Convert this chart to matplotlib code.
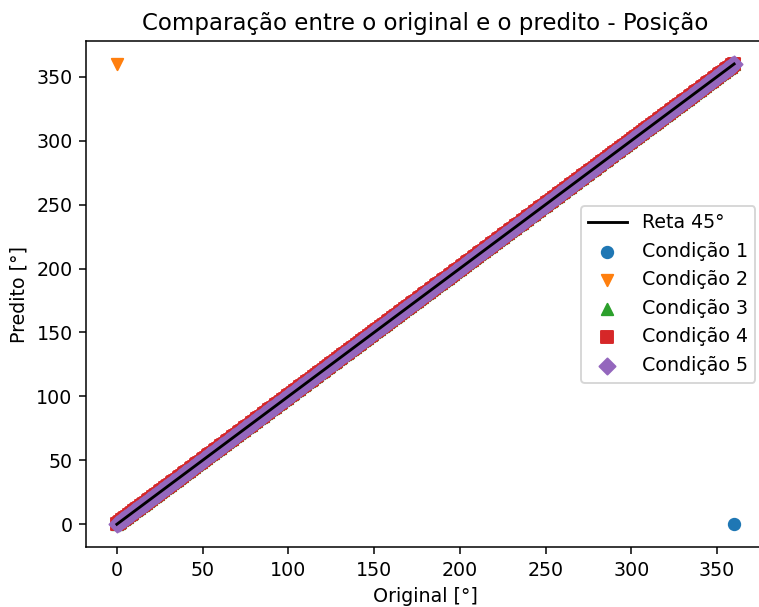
import matplotlib
matplotlib.use("Agg")
from matplotlib import pyplot as plt

# angulos originais (graus), 1 grau de passo
original = [
    0, 1, 2, 3, 4, 5, 6, 7, 8, 9, 10, 11, 12, 13, 14, 15, 16, 17, 18, 19,
    20, 21, 22, 23, 24, 25, 26, 27, 28, 29, 30, 31, 32, 33, 34, 35, 36, 37, 38, 39,
    40, 41, 42, 43, 44, 45, 46, 47, 48, 49, 50, 51, 52, 53, 54, 55, 56, 57, 58, 59,
    60, 61, 62, 63, 64, 65, 66, 67, 68, 69, 70, 71, 72, 73, 74, 75, 76, 77, 78, 79,
    80, 81, 82, 83, 84, 85, 86, 87, 88, 89, 90, 91, 92, 93, 94, 95, 96, 97, 98, 99,
    100, 101, 102, 103, 104, 105, 106, 107, 108, 109, 110, 111, 112, 113, 114, 115,
    116, 117, 118, 119, 120, 121, 122, 123, 124, 125, 126, 127, 128, 129, 130, 131,
    132, 133, 134, 135, 136, 137, 138, 139, 140, 141, 142, 143, 144, 145, 146, 147,
    148, 149, 150, 151, 152, 153, 154, 155, 156, 157, 158, 159, 160, 161, 162, 163,
    164, 165, 166, 167, 168, 169, 170, 171, 172, 173, 174, 175, 176, 177, 178, 179,
    180, 181, 182, 183, 184, 185, 186, 187, 188, 189, 190, 191, 192, 193, 194, 195,
    196, 197, 198, 199, 200, 201, 202, 203, 204, 205, 206, 207, 208, 209, 210, 211,
    212, 213, 214, 215, 216, 217, 218, 219, 220, 221, 222, 223, 224, 225, 226, 227,
    228, 229, 230, 231, 232, 233, 234, 235, 236, 237, 238, 239, 240, 241, 242, 243,
    244, 245, 246, 247, 248, 249, 250, 251, 252, 253, 254, 255, 256, 257, 258, 259,
    260, 261, 262, 263, 264, 265, 266, 267, 268, 269, 270, 271, 272, 273, 274, 275,
    276, 277, 278, 279, 280, 281, 282, 283, 284, 285, 286, 287, 288, 289, 290, 291,
    292, 293, 294, 295, 296, 297, 298, 299, 300, 301, 302, 303, 304, 305, 306, 307,
    308, 309, 310, 311, 312, 313, 314, 315, 316, 317, 318, 319, 320, 321, 322, 323,
    324, 325, 326, 327, 328, 329, 330, 331, 332, 333, 334, 335, 336, 337, 338, 339,
    340, 341, 342, 343, 344, 345, 346, 347, 348, 349, 350, 351, 352, 353, 354, 355,
    356, 357, 358, 359, 360,
]

# pontos em que o modelo errou a volta (0 <-> 360)
c1_outlier_x = [360]
c1_outlier_y = [0]
c2_outlier_x = [0]
c2_outlier_y = [360]

reta_x = [0, 360]
reta_y = [0, 360]

c1_x = original[:-1] + c1_outlier_x
c1_y = original[:-1] + c1_outlier_y
c2_x = c2_outlier_x + original[1:]
c2_y = c2_outlier_y + original[1:]
c3_x, c3_y = original, original
c4_x, c4_y = original, original
c5_x, c5_y = original, original

DPI = 137
fig = plt.figure(figsize=(759 / DPI, 607 / DPI), dpi=DPI)
ax = fig.add_axes([0.1133, 0.0984, 0.8946, 0.8341])

ax.plot(reta_x, reta_y, color="black", label="Reta 45°")
ax.scatter(c1_x, c1_y, marker="o", label="Condição 1")
ax.scatter(c2_x, c2_y, marker="v", label="Condição 2")
ax.scatter(c3_x, c3_y, marker="^", label="Condição 3")
ax.scatter(c4_x, c4_y, marker="s", label="Condição 4")
ax.scatter(c5_x, c5_y, marker="D", label="Condição 5")

ax.set_xlim(-18, 378)
ax.set_ylim(-18, 378)
ax.set_xlabel("Original [°]")
ax.set_ylabel("Predito [°]")
ax.set_title("Comparação entre o original e o predito - Posição")
ax.legend(loc="center right")

fig.savefig("out.png", dpi=DPI)
